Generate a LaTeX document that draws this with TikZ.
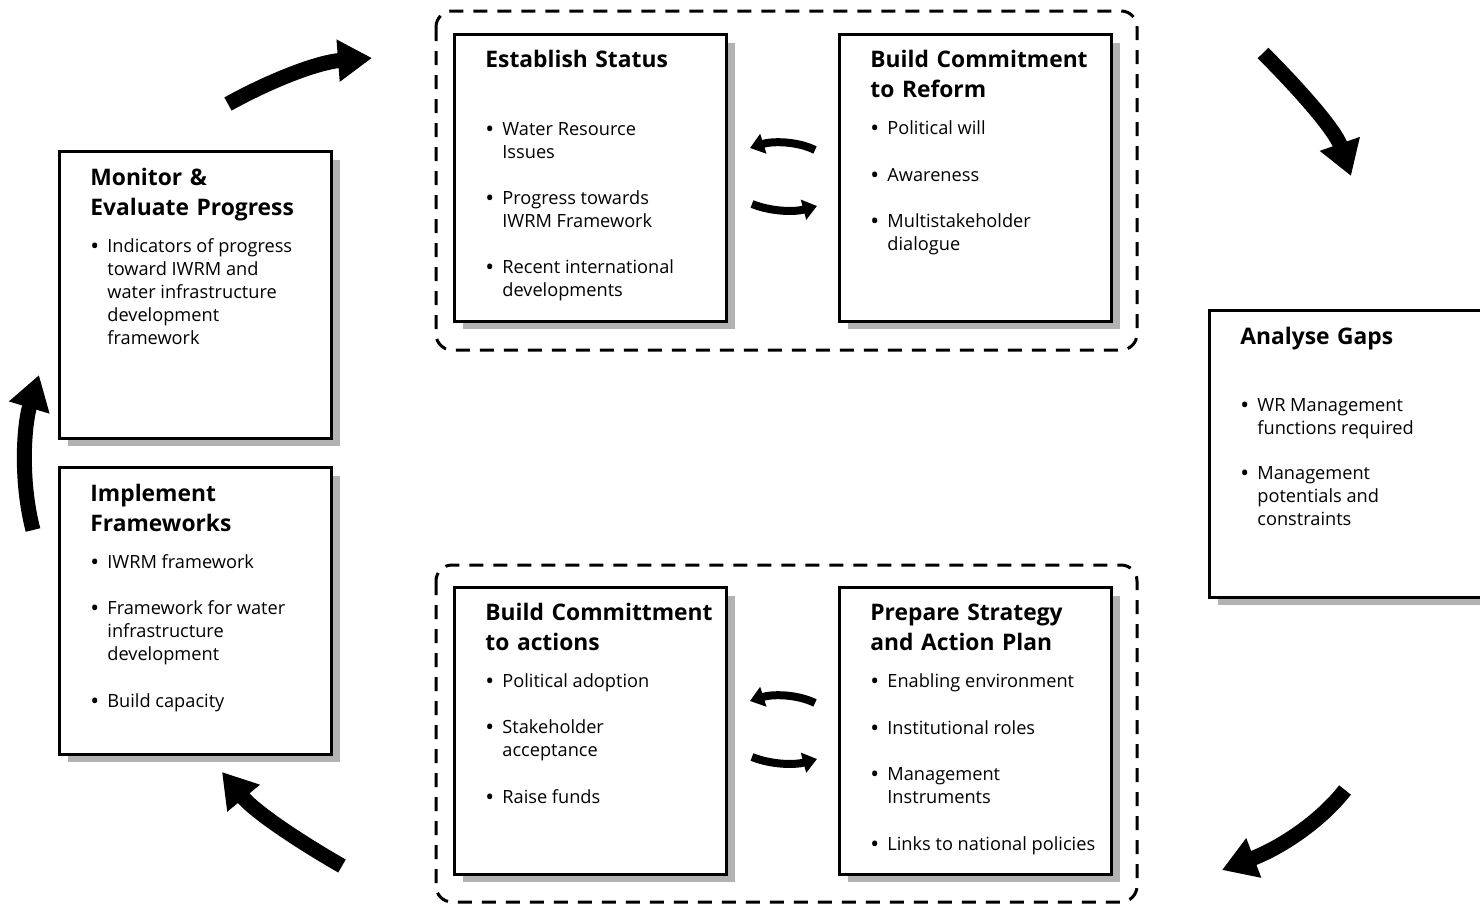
\documentclass[tikz,border=0pt]{standalone}
\usepackage{fontspec}
\setmainfont{Open Sans}
\usetikzlibrary{arrows.meta,shadows}

\newcommand{\itm}[1]{\makebox[8pt][l]{\textbf{\textbullet}}\parbox[t]{125pt}{\raggedright #1}}

\begin{document}
\begin{tikzpicture}[x=0.5pt,y=-0.5pt,
	box/.style={ draw, line width=1.5pt, fill=white, anchor=north west, inner sep=0pt, minimum width=136pt, minimum height=143.3pt, drop shadow={shadow xshift=4pt, shadow yshift=-4pt, fill=black!30, opacity=1} },
	grp/.style={ dash pattern=on 7pt off 5pt, line width=1.5pt, rounded corners=8pt },
	title/.style={ anchor=base west, inner sep=0pt, text width=135pt, align=left, font=\bfseries\fontsize{11.4}{15}\selectfont },
	item/.style={ anchor=base west, inner sep=0pt, font=\fontsize{9.1}{11.5}\selectfont },
	bigarrow/.style={ line width=7.5pt, -{Triangle[width=20pt,length=17pt]} },
	smallarrow/.style={ line width=4pt, -{Triangle[width=10pt,length=7pt]} }
]
\useasboundingbox (0,0) rectangle (1480,905);
\clip (0,0) rectangle (1480,905);

% dashed groups
\draw[grp] (436,11) rectangle (1137,350);
\draw[grp] (436,565) rectangle (1137,902);

% boxes
\node at (453,33) (status) [box] {};
\node at (838,33) (reform) [box] {};
\node at (58,150) (monitor) [box] {};
\node at (58,466) (implement) [box] {};
\node at (1208,309) (gaps) [box] {};
\node at (453,586) (actions) [box] {};
\node at (838,586) (strategy) [box] {};

% texts
\node at (485,67) (status-t) [title] {Establish Status};
\node at (486,135) (status-1) [item] {\itm{Water Resource\\Issues}};
\node at (486,204) (status-2) [item] {\itm{Progress towards\\IWRM Framework}};
\node at (486,273) (status-3) [item] {\itm{Recent international\\developments}};

\node at (870,67) (reform-t) [title] {Build Commitment\\to Reform};
\node at (871,134) (reform-1) [item] {\itm{Political will}};
\node at (871,181) (reform-2) [item] {\itm{Awareness}};
\node at (871,227) (reform-3) [item] {\itm{Multistakeholder\\dialogue}};

\node at (90,185) (monitor-t) [title] {Monitor \&\\Evaluate Progress};
\node at (91,252) (monitor-1) [item] {\itm{Indicators of progress\\toward IWRM and\\water infrastructure\\development\\framework}};

\node at (90,501) (implement-t) [title] {Implement\\Frameworks};
\node at (91,568) (implement-1) [item] {\itm{IWRM framework}};
\node at (91,614) (implement-2) [item] {\itm{Framework for water\\infrastructure\\development}};
\node at (91,707) (implement-3) [item] {\itm{Build capacity}};

\node at (1240,344) (gaps-t) [title] {Analyse Gaps};
\node at (1241,411) (gaps-1) [item] {\itm{WR Management\\functions required}};
\node at (1241,479) (gaps-2) [item] {\itm{Management\\potentials and\\constraints}};

\node at (485,620) (actions-t) [title] {Build Committment\\to actions};
\node at (486,687) (actions-1) [item] {\itm{Political adoption}};
\node at (486,733) (actions-2) [item] {\itm{Stakeholder\\acceptance}};
\node at (486,803) (actions-3) [item] {\itm{Raise funds}};

\node at (870,620) (strategy-t) [title] {Prepare Strategy\\and Action Plan};
\node at (871,687) (strategy-1) [item] {\itm{Enabling environment}};
\node at (871,734) (strategy-2) [item] {\itm{Institutional roles}};
\node at (871,780) (strategy-3) [item] {\itm{Management\\Instruments}};
\node at (871,850) (strategy-4) [item] {\itm{Links to national policies}};

% cycle arrows
\coordinate (c1) at (228,104);
\coordinate (c2) at (372,58);
\coordinate (c3) at (1263,53);
\coordinate (c4) at (1351,176);
\coordinate (c5) at (1345,790);
\coordinate (c6) at (1222,870);
\coordinate (c7) at (342,866);
\coordinate (c8) at (222,772);
\coordinate (c9) at (33,530);
\coordinate (c10) at (39,375);
\draw[bigarrow] (c1) .. controls (275,78) and (320,62) .. (c2);
\draw[bigarrow] (c3) .. controls (1300,90) and (1335,130) .. (c4);
\draw[bigarrow] (c5) .. controls (1320,822) and (1280,848) .. (c6);
\draw[bigarrow] (c7) .. controls (300,842) and (255,812) .. (c8);
\draw[bigarrow] (c9) .. controls (20,480) and (24,425) .. (c10);

% exchange arrows
\foreach \dy in {0,553} {
  \draw[smallarrow] (815,{150+\dy}) .. controls (797,{141+\dy}) and (772,{141+\dy}) .. (750,{148+\dy});
  \draw[smallarrow] (752,{204+\dy}) .. controls (772,{212+\dy}) and (795,{212+\dy}) .. (817,{206+\dy});
}

\end{tikzpicture}
\end{document}
